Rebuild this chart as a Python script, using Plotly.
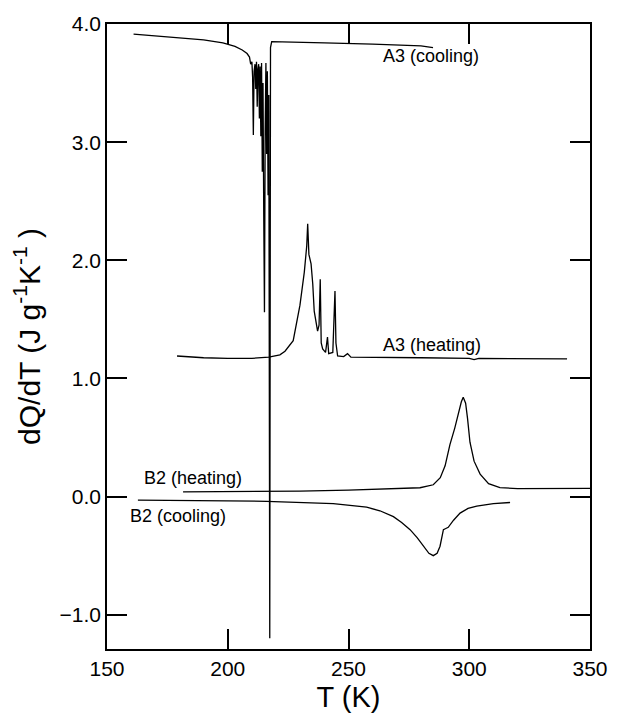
import plotly.graph_objects as go

# A3 (cooling)
a3c_T = [161.0, 170, 180, 190, 198, 203, 206, 208, 209, 209.5, 210, 210.3, 210.6, 210.9, 211.3, 211.6,
         211.9, 212.2, 212.5, 212.8, 213.1, 213.4, 213.7, 214.0, 214.3, 214.6, 214.9, 215.2, 215.5,
         215.8, 216.1, 216.4, 216.7, 217.0, 217.4, 217.7, 218.2, 225, 240, 260, 275, 280, 285]
a3c_Q = [3.915, 3.90, 3.885, 3.865, 3.84, 3.81, 3.78, 3.75, 3.72, 3.66, 3.68, 3.55, 3.06, 3.60, 3.66, 3.45,
         3.68, 3.30, 3.62, 3.66, 3.20, 3.64, 3.05, 3.67, 2.75, 3.50, 2.40, 1.56, 3.10,
         3.67, 2.90, 3.60, 2.55, 3.40, -1.20, 3.80, 3.85, 3.845, 3.84, 3.83, 3.82, 3.815, 3.80]

# A3 (heating)
a3h_T = [179, 190, 200, 210, 217, 221.6, 223.7, 226, 227.1, 229.9, 231.7, 232.7, 233.1, 233.6, 234.5,
         235.2, 235.8, 237.2, 237.8, 238.3, 238.7, 239.3, 240.5, 241.3, 241.8, 243.5, 244.0, 244.4,
         244.8, 245.5, 248, 249.6, 251, 260, 280, 300, 302, 304, 320, 340.5]
a3h_Q = [1.19, 1.175, 1.17, 1.17, 1.18, 1.20, 1.23, 1.29, 1.32, 1.62, 1.90, 2.12, 2.31, 2.05, 1.97,
         1.80, 1.57, 1.40, 1.45, 1.84, 1.30, 1.25, 1.22, 1.35, 1.21, 1.22, 1.45, 1.74,
         1.30, 1.19, 1.185, 1.21, 1.18, 1.18, 1.175, 1.17, 1.16, 1.17, 1.17, 1.165]

# B2 (heating)
b2h_T = [181.5, 200, 217, 229.9, 250, 270, 279.6, 285.1, 288, 290, 292.0, 294, 295.5, 296.7, 297.5,
         298.5, 299.3, 300.3, 302, 304.5, 308, 312.7, 320, 335, 350]
b2h_Q = [0.04, 0.042, 0.045, 0.047, 0.055, 0.065, 0.075, 0.10, 0.16, 0.26, 0.44, 0.58, 0.71, 0.80, 0.84,
         0.79, 0.66, 0.46, 0.30, 0.19, 0.11, 0.075, 0.068, 0.068, 0.07]

# B2 (cooling)
b2c_T = [162.8, 190, 216.1, 243.7, 257.5, 263, 268.6, 272, 275.5, 278.5, 281.0, 283.3, 285.1, 286.7,
         287.9, 289.3, 290.3, 291.3, 293.5, 296.2, 299.5, 303.1, 310, 316.9]
b2c_Q = [-0.03, -0.035, -0.04, -0.06, -0.09, -0.12, -0.17, -0.22, -0.28, -0.35, -0.42, -0.48, -0.50, -0.48,
         -0.42, -0.28, -0.27, -0.26, -0.20, -0.14, -0.10, -0.08, -0.06, -0.05]

labels = ["A3 (cooling)", "A3 (heating)", "B2 (heating)", "B2 (cooling)"]
label_T = [284.2, 284.6, 185.6, 179.4]
label_Q = [3.73, 1.28, 0.155, -0.165]

FONT = "Liberation Sans, Arial, sans-serif"

fig = go.Figure()
for xs, ys in [(a3c_T, a3c_Q), (a3h_T, a3h_Q), (b2h_T, b2h_Q), (b2c_T, b2c_Q)]:
    fig.add_trace(go.Scatter(x=xs, y=ys, mode="lines",
                             line=dict(color="black", width=1.3), showlegend=False))

for t, x, y in zip(labels, label_T, label_Q):
    fig.add_annotation(x=x, y=y, text=t, showarrow=False,
                       font=dict(family=FONT, size=18, color="black"))

fig.update_xaxes(range=[150, 350], tickmode="linear", tick0=150, dtick=50,
                 showline=True, linecolor="black", linewidth=1.5, mirror="allticks",
                 ticks="inside", ticklen=20, tickwidth=2, tickcolor="#000000",
                 showgrid=False, zeroline=False,
                 tickfont=dict(family=FONT, size=21, color="black"),
                 title=dict(text="T (K)", font=dict(family=FONT, size=29, color="black"), standoff=8))
fig.update_yaxes(range=[-1.29, 4.0], tickmode="linear", tick0=0, dtick=1, tickformat=".1f",
                 showline=True, linecolor="black", linewidth=1.5, mirror="allticks",
                 ticks="inside", ticklen=20, tickwidth=2, tickcolor="#000000",
                 showgrid=False, zeroline=False,
                 tickfont=dict(family=FONT, size=21, color="black"),
                 title=dict(text="dQ/dT (J g<sup>-1</sup>K<sup>-1</sup> )",
                            font=dict(family=FONT, size=30, color="black"), standoff=10))

fig.update_layout(width=627, height=720, margin=dict(l=107, r=37, t=12, b=68),
                  plot_bgcolor="white", paper_bgcolor="white")
fig.write_html("out.html")
